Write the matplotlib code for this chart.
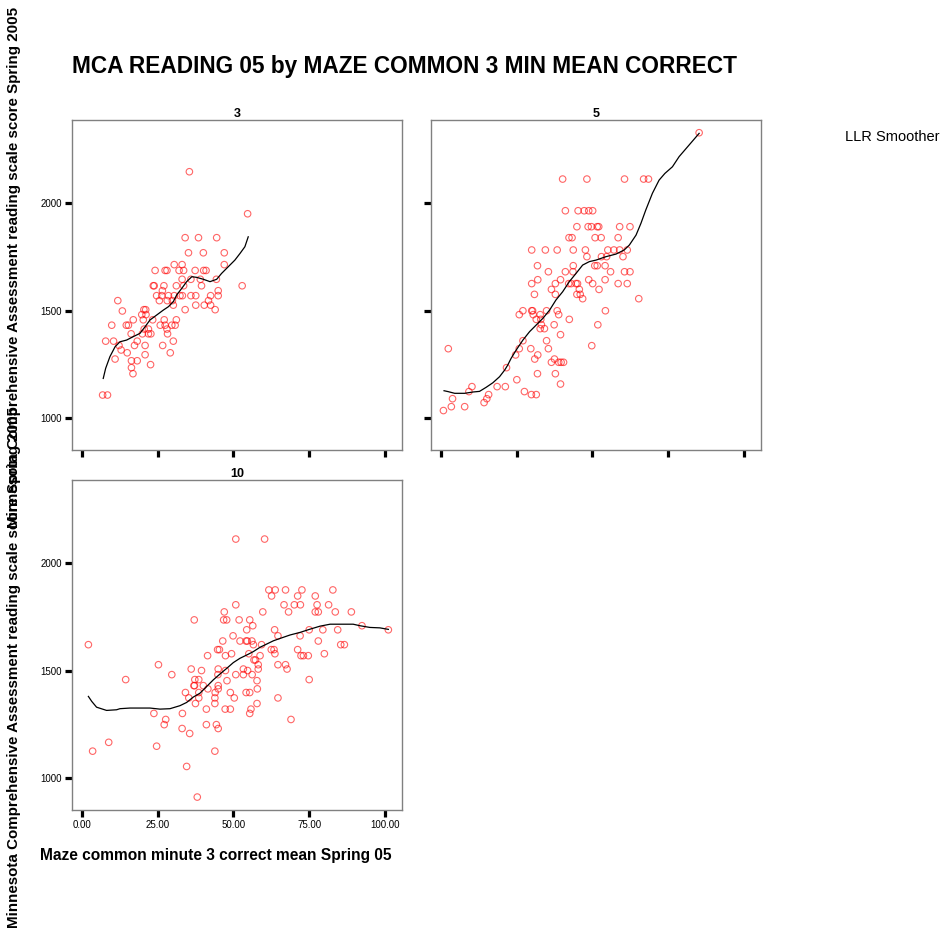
import matplotlib

matplotlib.use("Agg")
import matplotlib.pyplot as plt

plt.rcParams["font.family"] = ["Liberation Sans", "DejaVu Sans"]

# ── data (grade 3 / 5 / 10 panels)
g3_x = [
    35.5,
    54.7,
    34.1, 38.5, 44.5,
    35.2, 40.1, 47.0,
    30.5, 33.1, 47.0,
    24.2, 27.5, 28.1, 32.1, 33.6, 37.4, 40.2, 41.0,
    33.1, 36.0, 39.1, 44.4,
    23.6, 23.9, 27.1, 31.2, 33.6, 39.5, 52.9,
    26.6, 45.0,
    24.7, 26.4, 28.6, 30.5, 32.4, 33.2, 36.0, 37.6, 42.5, 45.0,
    11.9, 25.6, 28.2, 29.9, 41.8,
    30.2, 37.6, 40.4, 42.5,
    20.5, 21.1, 34.1, 44.0,
    13.4,
    19.8, 21.2,
    17.0, 20.3, 23.4, 27.2, 31.2,
    9.9, 14.7, 15.4, 25.9, 27.5, 29.7, 30.8,
    20.6, 22.0, 28.1,
    16.3, 20.0, 22.0, 22.8, 28.3,
    7.9, 10.5, 18.3, 30.2,
    12.3, 17.4, 20.9, 26.7,
    13.0,
    15.0, 29.2,
    20.9,
    11.0,
    16.4, 18.3,
    22.7,
    16.4,
    16.9,
    6.9, 8.5,
]
g3_y = [
    2144,
    1949,
    1838, 1838, 1838,
    1768, 1768, 1768,
    1713, 1713, 1713,
    1686, 1686, 1686, 1686, 1686, 1686, 1686, 1686,
    1645, 1645, 1645, 1645,
    1615, 1615, 1615, 1615, 1615, 1615, 1615,
    1592, 1592,
    1569, 1569, 1569, 1569, 1569, 1569, 1569, 1569, 1569, 1569,
    1546, 1546, 1546, 1546, 1546,
    1525, 1525, 1525, 1525,
    1504, 1504, 1504, 1504,
    1498,
    1481, 1481,
    1457, 1457, 1457, 1457, 1457,
    1432, 1432, 1432, 1432, 1432, 1432, 1432,
    1414, 1414, 1414,
    1392, 1392, 1392, 1392, 1392,
    1358, 1358, 1358, 1358,
    1338, 1338, 1338, 1338,
    1317,
    1304, 1304,
    1295,
    1275,
    1267, 1267,
    1249,
    1235,
    1207,
    1108, 1108,
]
g3_fit_x = [7.1, 7.9, 9.3, 11.0, 12.6, 14.8, 17.0, 19.2, 20.9, 22.5, 24.7, 26.9,
            28.6, 30.2, 31.3, 33.0, 34.6, 36.3, 37.9, 40.1, 42.3, 44.5, 46.1,
            48.3, 50.5, 52.2, 53.8, 54.9]
g3_fit_y = [1185, 1232, 1286, 1332, 1355, 1363, 1379, 1394, 1425, 1456, 1479, 1502,
            1518, 1541, 1572, 1603, 1634, 1657, 1654, 1645, 1634, 1645, 1672,
            1703, 1734, 1765, 1796, 1842]

g5_x = [
    85.2,
    40.2, 48.2, 60.6, 66.9, 68.5,
    41.1, 45.3, 47.3, 48.8, 50.1,
    44.9, 48.6, 49.7, 51.6, 52.1, 59.0, 62.4,
    42.3, 43.3, 50.9, 52.9, 58.5,
    30.0, 34.5, 38.4, 43.7, 47.7, 55.1, 57.1, 59.0, 61.5,
    48.2, 53.0, 54.7, 60.1,
    31.9, 43.7, 50.8, 51.6, 54.2,
    35.5, 41.1, 43.6, 56.0, 60.6, 62.4,
    32.0, 39.5, 48.8, 54.2,
    30.0, 37.8, 42.2, 43.0, 44.6, 45.1, 50.1, 58.5, 61.5,
    36.5, 45.7, 52.2,
    30.9, 37.8, 44.9, 46.0,
    46.8, 65.3,
    27.1, 30.0, 30.3, 34.9, 38.4, 54.3,
    25.9, 30.5, 32.8, 38.9,
    31.5, 33.0, 42.4,
    33.2, 37.4, 51.8,
    32.8, 34.2,
    39.5,
    27.1, 34.9,
    49.8,
    2.5, 25.9, 29.7, 35.5,
    24.7, 32.0,
    31.0, 37.5,
    36.5, 38.9, 39.7, 40.5,
    21.7,
    31.9, 37.8,
    25.1,
    39.5,
    10.3, 18.6, 21.3,
    9.3, 27.6,
    15.8, 29.9, 31.5,
    3.9, 15.2,
    14.3,
    3.5, 7.9,
    0.9,
]
g5_y = [
    2325,
    2110, 2110, 2110, 2110, 2110,
    1963, 1963, 1963, 1963, 1963,
    1889, 1889, 1889, 1889, 1889, 1889, 1889,
    1838, 1838, 1838, 1838, 1838,
    1781, 1781, 1781, 1781, 1781, 1781, 1781, 1781, 1781,
    1750, 1750, 1750, 1750,
    1708, 1708, 1708, 1708, 1708,
    1680, 1680, 1680, 1680, 1680, 1680,
    1643, 1643, 1643, 1643,
    1625, 1625, 1625, 1625, 1625, 1625, 1625, 1625, 1625,
    1598, 1598, 1598,
    1575, 1575, 1575, 1575,
    1555, 1555,
    1499, 1499, 1499, 1499, 1499, 1499,
    1481, 1481, 1481, 1481,
    1459, 1459, 1459,
    1434, 1434, 1434,
    1416, 1416,
    1388,
    1360, 1360,
    1337,
    1323, 1323, 1323, 1323,
    1294, 1294,
    1275, 1275,
    1260, 1260, 1260, 1260,
    1235,
    1207, 1207,
    1179,
    1159,
    1147, 1147, 1147,
    1124, 1124,
    1110, 1110, 1110,
    1091, 1091,
    1073,
    1054, 1054,
    1036,
]
g5_fit_x = [1.1, 2.4, 4.6, 7.9, 10.6, 12.8, 15.0, 17.2, 19.4, 21.1, 22.1, 23.2,
            24.9, 27.1, 29.3, 31.5, 33.7, 35.9, 38.0, 40.2, 42.4, 44.6, 46.8,
            49.0, 51.2, 54.5, 57.8, 60.5, 62.2, 64.4, 66.0, 67.6, 69.8, 72.0,
            73.9, 76.4, 78.6, 81.9, 85.2]
g5_fit_y = [1128, 1124, 1116, 1116, 1122, 1125, 1144, 1165, 1193, 1224, 1247, 1278,
            1317, 1363, 1402, 1433, 1464, 1502, 1549, 1587, 1634, 1672, 1711,
            1727, 1734, 1750, 1762, 1781, 1804, 1850, 1904, 1966, 2044, 2105,
            2136, 2167, 2214, 2268, 2322]

g10_x = [
    50.8, 60.3,
    61.7, 63.8, 67.2, 72.6, 82.8,
    62.6, 71.2, 77.0,
    50.8, 66.7, 70.1, 72.1, 77.6, 81.4,
    47.0, 59.7, 68.2, 77.0, 78.0, 83.6, 88.9,
    37.1, 46.8, 47.8, 51.9, 55.4,
    56.4, 92.4,
    54.4, 63.6, 75.0, 79.5, 84.4, 101.1,
    49.9, 64.7, 72.0,
    46.5, 52.2, 54.2, 54.6, 56.1, 78.0,
    2.2, 56.6, 59.3, 85.4, 86.6,
    44.8, 45.4, 62.5, 63.4, 71.2,
    49.4, 55.1, 63.7, 80.0,
    41.5, 47.4, 58.8, 72.3, 73.1, 74.7,
    56.8, 57.3,
    25.3, 58.2, 64.7, 67.2,
    36.1, 45.0, 53.3, 58.2, 67.7,
    39.5, 47.4, 54.7,
    29.7, 44.9, 50.8, 53.3, 56.2,
    14.5, 37.3, 38.6, 75.0,
    47.9, 57.8,
    37.0, 37.2, 40.1, 45.0,
    41.6, 45.0, 57.9,
    34.2, 38.6, 44.0, 49.0, 54.2, 55.4,
    35.3, 38.6, 43.9, 50.3, 64.7,
    37.5, 43.9, 57.8,
    41.1, 47.3, 49.0, 55.8,
    23.8, 33.2, 55.4,
    27.7, 69.0,
    27.2, 41.1, 44.4,
    33.1, 45.0,
    35.6,
    8.9,
    24.7,
    3.6, 43.9,
    34.6,
    38.1,
]
g10_y = [
    2110, 2110,
    1874, 1874, 1874, 1874, 1874,
    1846, 1846, 1846,
    1805, 1805, 1805, 1805, 1805, 1805,
    1772, 1772, 1772, 1772, 1772, 1772, 1772,
    1735, 1735, 1735, 1735, 1735,
    1708, 1708,
    1689, 1689, 1689, 1689, 1689, 1689,
    1661, 1661, 1661,
    1637, 1637, 1637, 1637, 1637, 1637,
    1620, 1620, 1620, 1620, 1620,
    1597, 1597, 1597, 1597, 1597,
    1578, 1578, 1578, 1578,
    1569, 1569, 1569, 1569, 1569, 1569,
    1549, 1549,
    1527, 1527, 1527, 1527,
    1507, 1507, 1507, 1507, 1507,
    1500, 1500, 1500,
    1481, 1481, 1481, 1481, 1481,
    1458, 1458, 1458, 1458,
    1453, 1453,
    1430, 1430, 1430, 1430,
    1415, 1415, 1415,
    1398, 1398, 1398, 1398, 1398, 1398,
    1373, 1373, 1373, 1373, 1373,
    1347, 1347, 1347,
    1321, 1321, 1321, 1321,
    1301, 1301, 1301,
    1273, 1273,
    1249, 1249, 1249,
    1231, 1231,
    1208,
    1167,
    1149,
    1126, 1126,
    1055,
    913,
]
g10_fit_x = [2.2, 3.3, 4.9, 8.2, 11.5, 12.6, 15.9, 22.5, 25.8, 29.1, 32.4, 34.6,
             36.8, 39.0, 41.2, 43.4, 45.6, 47.8, 50.0, 52.2, 54.4, 56.6, 58.8,
             61.0, 63.2, 65.4, 68.7, 72.0, 75.3, 78.6, 81.9, 85.1, 89.5, 91.7,
             95.0, 98.3, 101.1]
g10_fit_y = [1380, 1357, 1330, 1315, 1318, 1323, 1326, 1326, 1321, 1323, 1337, 1352,
             1377, 1395, 1426, 1457, 1484, 1510, 1537, 1557, 1572, 1588, 1608,
             1623, 1638, 1649, 1665, 1677, 1692, 1706, 1715, 1715, 1715, 1708,
             1700, 1698, 1691]

X_TICKS = [0, 25, 50, 75, 100]
X_TICKLABELS = ["0.00", "25.00", "50.00", "75.00", "100.00"]
Y_TICKS = [1000, 1500, 2000]

W, H = 941, 930
PANELS = [
    # name, (left, top) px, x data, y data, fit x, fit y, x labels, y labels
    ("3", (72, 120), g3_x, g3_y, g3_fit_x, g3_fit_y, False, True),
    ("5", (431, 120), g5_x, g5_y, g5_fit_x, g5_fit_y, False, False),
    ("10", (72, 480), g10_x, g10_y, g10_fit_x, g10_fit_y, True, True),
]
SIZE = 330

fig = plt.figure(figsize=(W / 100, H / 100), dpi=100)

for name, (lx, ty), xs, ys, fx, fy, show_x, show_y in PANELS:
    ax = fig.add_axes([lx / W, (H - ty - SIZE) / H, SIZE / W, SIZE / H])
    ax.scatter(xs, ys, s=22, facecolors="none", edgecolors="#ff0000",
               linewidths=0.8, alpha=0.6, zorder=3)
    ax.plot(fx, fy, color="black", lw=0.9, zorder=4)
    ax.set_xlim(-3.2, 105.6)
    ax.set_ylim(853, 2384)
    ax.set_xticks(X_TICKS)
    ax.set_yticks(Y_TICKS)
    ax.set_xticklabels(X_TICKLABELS if show_x else [])
    ax.set_yticklabels([str(v) for v in Y_TICKS] if show_y else [])
    ax.tick_params(direction="out", length=5, width=2.3, color="black",
                   labelsize=7, pad=2)
    for sp in ax.spines.values():
        sp.set_color("#808080")
        sp.set_linewidth(1.0)
    ax.set_title(name, fontsize=9, fontweight="bold", pad=1)

fig.text(72 / W, 1 - 66 / H, "MCA READING 05 by MAZE COMMON 3 MIN MEAN CORRECT",
         fontsize=16.3, fontweight="bold", ha="left", va="center")
fig.text(845 / W, 1 - 137 / H, "LLR Smoother", fontsize=10.5,
         ha="left", va="center")
fig.text(40 / W, 1 - 855 / H, "Maze common minute 3 correct mean Spring 05",
         fontsize=11.2, fontweight="bold", ha="left", va="center")

# the two row labels overlap in the reference as well
ylab = "Minnesota Comprehensive Assessment reading scale score Spring 2005"
fig.text(14 / W, 1 - 667 / H, ylab, rotation=90, fontsize=10.9,
         fontweight="bold", ha="center", va="center")
fig.text(14 / W, 1 - 267 / H, ylab, rotation=90, fontsize=10.9,
         fontweight="bold", ha="center", va="center")

fig.savefig("out.png", dpi=100)
